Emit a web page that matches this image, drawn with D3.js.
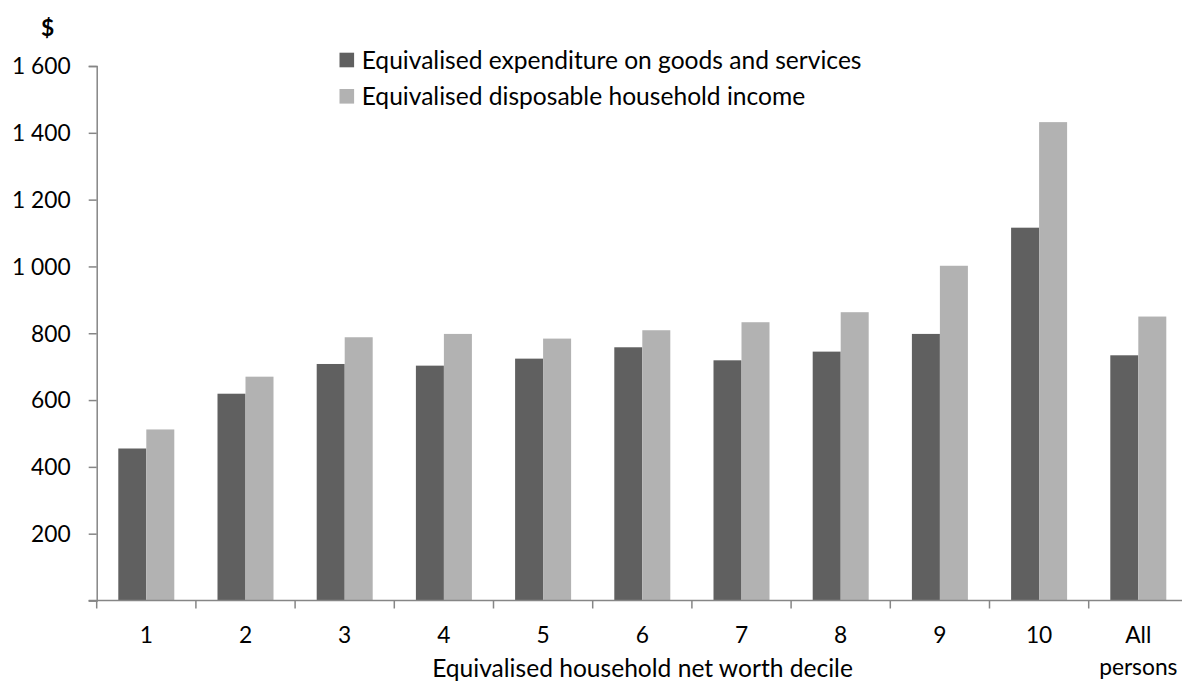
<!DOCTYPE html>
<html>
<head>
<meta charset="utf-8">
<script src="https://cdn.jsdelivr.net/npm/d3@7/dist/d3.min.js"></script>
<style>
  html, body { margin: 0; padding: 0; background: #fff; }
  svg { display: block; }
  text { font-family: Lato, "Open Sans", sans-serif; fill: #000; }
</style>
</head>
<body>
<svg id="chart" width="1182" height="684"></svg>
<script>
const categories = ["1", "2", "3", "4", "5", "6", "7", "8", "9", "10", "All persons"];
const expenditure = [455, 619, 708, 703, 724, 758, 719, 745, 798, 1116, 734];
const income = [512, 670, 788, 798, 784, 809, 833, 863, 1002, 1432, 850];
const seriesNames = ["Equivalised expenditure on goods and services", "Equivalised disposable household income"];
const seriesColors = ["#606060", "#b2b2b2"];
const yTicks = [0, 200, 400, 600, 800, 1000, 1200, 1400, 1600];
const xTitle = "Equivalised household net worth decile";
const yUnit = "$";

(function () {
const svg = d3.select("#chart");
const axisColor = "#868686";

const pLeft = 96.7, pRight = 96.7 + 99.2 * 11, pTop = 66, pBottom = 600.5;

const y = d3.scaleLinear().domain([0, 1600]).range([pBottom, pTop]);
const x0 = d3.scaleBand().domain(categories).range([pLeft, pRight]).paddingInner(0).paddingOuter(0);
const x1 = d3.scaleBand().domain([0, 1]).range([0, 56]);
const groupOffset = (x0.bandwidth() - 56) / 2;

function fitSize(str, target, weight) {
  const t = svg.append("text").attr("font-size", 100).attr("font-weight", weight || "normal").text(str);
  const w = t.node().getComputedTextLength();
  t.remove();
  return 100 * target / w;
}
const legendSize = fitSize(seriesNames[0], 500);
const titleSize = fitSize(xTitle, 421);
const tickSize = fitSize("1 600", 58.7);

const data = categories.map((c, i) => ({ c, vals: [expenditure[i], income[i]] }));
const g = svg.append("g");
g.selectAll("g.grp").data(data).join("g")
  .attr("class", "grp")
  .attr("transform", d => `translate(${x0(d.c) + groupOffset},0)`)
  .selectAll("rect").data(d => d.vals.map((v, k) => ({ v, k }))).join("rect")
  .attr("x", d => x1(d.k))
  .attr("width", x1.bandwidth())
  .attr("y", d => y(d.v))
  .attr("height", d => y(0) - y(d.v))
  .attr("fill", d => seriesColors[d.k]);

const yAxis = d3.axisLeft(y).tickValues(yTicks).tickSize(8).tickPadding(18)
  .tickFormat(d => d === 0 ? "" : d3.format(",")(d).replace(/,/g, " "));
const ya = svg.append("g").attr("transform", `translate(${pLeft},0)`).call(yAxis);
ya.select(".domain").attr("stroke", axisColor).attr("stroke-width", 1.5);
ya.selectAll(".tick line").attr("stroke", axisColor).attr("stroke-width", 1.5);
ya.selectAll(".tick text").attr("font-size", tickSize).attr("font-family", "Lato").attr("fill", "#000").attr("dy", "0.34em");

const xAxisLine = svg.append("g");
xAxisLine.append("line").attr("x1", pLeft - 8).attr("x2", pRight).attr("y1", pBottom).attr("y2", pBottom)
  .attr("stroke", axisColor).attr("stroke-width", 1.5);
const boundaries = d3.range(categories.length + 1).map(i => pLeft + i * x0.step());
xAxisLine.selectAll("line.tk").data(boundaries).join("line").attr("class", "tk")
  .attr("x1", d => d).attr("x2", d => d).attr("y1", pBottom).attr("y2", pBottom + 8)
  .attr("stroke", axisColor).attr("stroke-width", 1.5);

const xl = svg.append("g").selectAll("text").data(categories).join("text")
  .attr("x", d => x0(d) + x0.bandwidth() / 2)
  .attr("y", 643)
  .attr("text-anchor", "middle")
  .attr("font-size", tickSize);
xl.each(function(d) {
  const parts = d.split(" ");
  const t = d3.select(this);
  parts.forEach((p, i) => {
    t.append("tspan").attr("x", x0(d) + x0.bandwidth() / 2).attr("dy", i === 0 ? 0 : 32).text(p);
  });
});

svg.append("text").attr("x", 642.5).attr("y", 677).attr("text-anchor", "middle")
  .attr("font-size", titleSize).text(xTitle);

svg.append("text").attr("x", 47.5).attr("y", 36).attr("text-anchor", "middle")
  .attr("font-size", tickSize).attr("font-weight", "bold").text(yUnit);

const lg = svg.append("g");
const legY = [60, 96.3];
seriesNames.forEach((n, i) => {
  lg.append("rect").attr("x", 339.5).attr("y", legY[i] - 7.3).attr("width", 14.6).attr("height", 14.6)
    .attr("fill", seriesColors[i]);
  lg.append("text").attr("x", 361.7).attr("y", legY[i]).attr("dy", "0.36em")
    .attr("font-size", legendSize).text(n);
});
})();
</script>
</body>
</html>
